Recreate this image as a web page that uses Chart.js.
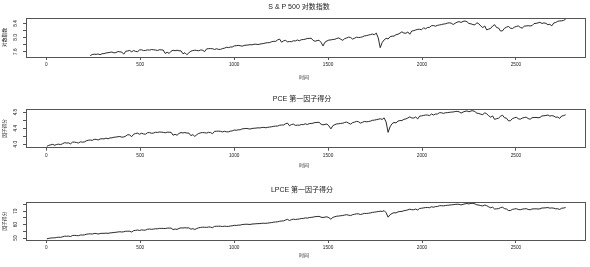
<!DOCTYPE html>
<html>
<head>
<meta charset="utf-8">
<script src="https://cdn.jsdelivr.net/npm/chart.js@4.4.1/dist/chart.umd.min.js"></script>
<style>
  html, body { margin: 0; padding: 0; background: #fff; overflow: hidden; }
  #wrap { position: relative; width: 590px; height: 267px; }
  canvas { position: absolute; left: 0; }
</style>
</head>
<body>
<div id="wrap">
  <canvas id="c1" width="590" height="89" style="top:0px"></canvas>
  <canvas id="c2" width="590" height="89" style="top:89px"></canvas>
  <canvas id="c3" width="590" height="89" style="top:178px"></canvas>
</div>
<script>
// ---------- data (time index: semi-monthly samples of the daily series) ----------
const T_START = 3, T_STEP = 10.5, T_COUNT = 264;
const timeIndex = Array.from({length: T_COUNT}, (_, k) => T_START + T_STEP * k);
const spStartK = 22; // S&P series begins later

const spLog = [
7.486,7.518,7.528,7.521,7.535,7.512,7.541,7.544,7.562,7.569,
7.581,7.588,7.566,7.573,7.602,7.596,7.587,7.529,7.610,7.621,
7.634,7.596,7.630,7.606,7.598,7.648,7.652,7.630,7.634,7.650,
7.643,7.659,7.653,7.647,7.632,7.653,7.651,7.645,7.550,7.581,
7.550,7.612,7.640,7.626,7.640,7.622,7.623,7.539,7.570,7.512,
7.566,7.611,7.630,7.640,7.633,7.624,7.648,7.638,7.601,7.678,
7.684,7.687,7.683,7.661,7.682,7.665,7.662,7.687,7.696,7.724,
7.714,7.730,7.732,7.762,7.768,7.777,7.768,7.754,7.776,7.783,
7.788,7.797,7.793,7.808,7.812,7.800,7.813,7.824,7.832,7.847,
7.854,7.856,7.882,7.892,7.891,7.932,7.955,7.867,7.906,7.919,
7.879,7.886,7.882,7.908,7.903,7.930,7.908,7.937,7.943,7.952,
7.973,7.974,7.981,7.919,7.894,7.912,7.923,7.863,7.763,7.867,
7.902,7.928,7.932,7.945,7.949,7.974,7.988,7.952,7.920,7.969,
7.987,8.011,8.000,7.955,7.981,8.009,7.999,8.005,8.019,8.046,
8.052,8.068,8.081,8.099,8.079,8.126,7.991,7.713,7.858,7.934,
7.977,7.959,8.021,8.039,8.039,8.079,8.093,8.124,8.161,8.126,
8.121,8.157,8.093,8.185,8.195,8.214,8.231,8.234,8.220,8.277,
8.246,8.284,8.287,8.336,8.338,8.321,8.344,8.355,8.366,8.380,
8.388,8.407,8.417,8.407,8.368,8.405,8.435,8.451,8.426,8.457,
8.469,8.447,8.396,8.389,8.366,8.357,8.418,8.388,8.326,8.281,
8.326,8.216,8.239,8.259,8.326,8.364,8.283,8.269,8.185,8.189,
8.262,8.292,8.314,8.267,8.253,8.294,8.313,8.330,8.286,8.266,
8.321,8.328,8.335,8.327,8.338,8.395,8.401,8.414,8.431,8.398,
8.414,8.401,8.364,8.373,8.331,8.412,8.427,8.459,8.470,8.472,
8.486,8.517];

const pceScore = [
3.947,3.971,3.984,3.995,3.972,3.994,3.999,3.990,4.012,4.037,
4.028,4.032,4.008,4.050,4.053,4.041,4.029,4.058,4.051,4.055,
4.083,4.098,4.104,4.094,4.122,4.119,4.105,4.129,4.136,4.131,
4.151,4.134,4.156,4.158,4.172,4.177,4.186,4.191,4.175,4.180,
4.202,4.237,4.230,4.187,4.248,4.266,4.276,4.247,4.273,4.255,
4.249,4.286,4.289,4.273,4.276,4.298,4.292,4.304,4.300,4.295,
4.284,4.300,4.298,4.294,4.223,4.246,4.223,4.269,4.290,4.280,
4.290,4.277,4.277,4.214,4.238,4.194,4.235,4.268,4.283,4.290,
4.285,4.278,4.296,4.289,4.261,4.319,4.323,4.325,4.322,4.306,
4.322,4.309,4.307,4.325,4.332,4.353,4.346,4.358,4.359,4.382,
4.386,4.393,4.386,4.376,4.392,4.397,4.401,4.408,4.405,4.416,
4.419,4.410,4.420,4.428,4.434,4.445,4.451,4.452,4.472,4.479,
4.478,4.509,4.526,4.460,4.490,4.499,4.469,4.475,4.472,4.491,
4.487,4.508,4.491,4.513,4.517,4.524,4.540,4.541,4.546,4.499,
4.481,4.494,4.502,4.457,4.382,4.460,4.487,4.506,4.509,4.519,
4.522,4.541,4.551,4.524,4.500,4.537,4.550,4.568,4.560,4.526,
4.546,4.567,4.559,4.564,4.574,4.595,4.599,4.611,4.621,4.634,
4.619,4.655,4.553,4.295,4.434,4.511,4.543,4.529,4.576,4.589,
4.589,4.619,4.630,4.653,4.681,4.655,4.651,4.678,4.630,4.699,
4.706,4.718,4.727,4.727,4.713,4.753,4.727,4.752,4.751,4.785,
4.784,4.768,4.782,4.787,4.793,4.800,4.803,4.814,4.819,4.808,
4.776,4.801,4.820,4.829,4.808,4.828,4.834,4.813,4.773,4.766,
4.747,4.738,4.782,4.757,4.709,4.673,4.705,4.620,4.635,4.648,
4.697,4.723,4.660,4.648,4.583,4.584,4.637,4.657,4.672,4.634,
4.622,4.651,4.663,4.674,4.639,4.622,4.661,4.664,4.667,4.659,
4.666,4.705,4.708,4.716,4.727,4.701,4.712,4.700,4.671,4.676,
4.643,4.703,4.712,4.735];

const lpceScore = [
49.46,49.83,50.04,50.21,50.18,50.52,50.66,50.58,50.99,51.45,
51.36,51.49,51.18,51.92,52.03,51.91,51.78,52.31,52.27,52.40,
52.85,53.08,53.19,53.02,53.46,53.42,53.03,53.42,53.58,53.52,
53.73,53.49,53.88,53.95,54.20,54.33,54.55,54.72,54.54,54.71,
55.13,55.14,55.12,54.51,55.56,55.77,56.02,55.64,56.13,55.92,
55.92,56.60,56.72,56.54,56.67,56.93,56.93,57.20,57.21,57.20,
57.10,57.44,57.46,57.43,56.34,56.76,56.44,57.22,57.61,57.49,
57.70,57.53,57.60,56.63,57.05,56.40,57.10,57.68,57.96,58.10,
58.05,57.96,58.27,58.18,57.75,58.70,58.80,58.85,58.84,58.59,
58.86,58.69,58.67,58.99,59.13,59.49,59.41,59.63,59.69,60.08,
60.20,60.33,60.27,60.13,60.43,60.55,60.65,60.78,60.78,60.99,
61.07,60.96,61.16,61.38,61.55,61.82,62.00,62.11,62.50,62.71,
62.79,63.47,63.94,63.06,63.72,64.07,63.78,64.04,64.18,64.58,
64.60,65.00,64.82,65.24,65.41,65.59,65.93,66.02,66.18,65.52,
65.30,65.59,65.81,65.17,64.06,65.38,65.88,66.28,66.40,66.64,
66.77,67.15,67.39,67.03,66.73,67.40,67.68,68.05,68.00,67.54,
67.93,68.34,68.30,68.45,68.70,69.09,69.24,69.52,69.72,69.99,
69.80,70.41,68.84,65.56,67.35,68.31,68.87,68.71,69.50,69.77,
69.82,70.35,70.57,70.99,71.48,71.11,71.10,71.58,70.87,72.02,
72.19,72.47,72.69,72.74,72.59,73.29,72.93,73.41,73.46,74.06,
74.11,73.92,74.21,74.36,74.51,74.69,74.81,75.05,75.18,75.08,
74.64,75.09,75.47,75.68,75.39,75.78,75.82,75.44,74.72,74.53,
74.14,73.92,74.55,74.08,73.22,72.57,73.01,71.59,71.77,71.91,
72.61,72.97,71.90,71.63,70.52,70.47,71.30,71.63,71.86,71.26,
71.06,71.52,71.71,71.87,71.31,71.03,71.66,71.71,71.76,71.62,
71.72,72.37,72.40,72.53,72.69,72.27,72.42,72.22,71.75,71.82,
71.28,72.21,72.36,72.71];

// ---------- axes / text ----------
const xTicks = [0, 500, 1000, 1500, 2000, 2500];
const spYTicks = [7.6, 7.8, 8.0, 8.2, 8.4];
const spYLabels = ['7.6', '8.0', '8.4'];
const pceYTicks = [4.0, 4.2, 4.4, 4.6, 4.8];
const pceYLabels = ['4.0', '4.4', '4.8'];
const lpceYTicks = [50, 55, 60, 65, 70, 75];
const lpceYLabels = ['50', '60', '70'];
const titles = ['S & P 500 对数指数', 'PCE 第一因子得分', 'LPCE 第一因子得分'];
const yTitles = ['对数指数', '因子得分', '因子得分'];
const xTitle = '时间';

const FONT = "'Liberation Sans', Arial, 'Noto Sans CJK SC', sans-serif";
const INK = '#1a1a1a';
const FRAME = '#555555';

function makeFramePlugin(cfg) {
  return {
    id: 'frame_' + cfg.id,
    afterDraw(chart) {
      const { ctx, chartArea: a, scales } = chart;
      ctx.save();
      ctx.strokeStyle = FRAME;
      ctx.lineWidth = 1;
      ctx.strokeRect(Math.round(a.left) + 0.5, Math.round(a.top) + 0.5,
                     Math.round(a.right - a.left) - 1, Math.round(a.bottom - a.top));
      ctx.fillStyle = INK;
      ctx.textAlign = 'center';
      ctx.textBaseline = 'middle';
      ctx.font = `${cfg.titleSize}px ${FONT}`;
      ctx.fillText(cfg.title, cfg.titleX, cfg.titleY);
      ctx.font = `${cfg.axisTitleSize}px ${FONT}`;
      ctx.fillText(xTitle, cfg.xTitleX, cfg.xTitleY);
      ctx.save();
      ctx.translate(cfg.yTitleX, (a.top + a.bottom) / 2);
      ctx.rotate(-Math.PI / 2);
      ctx.fillText(cfg.yTitle, 0, 0);
      ctx.restore();
      ctx.font = `${cfg.tickSize}px ${FONT}`;
      cfg.yLabels.forEach(lbl => {
        const y = scales.y.getPixelForValue(parseFloat(lbl));
        ctx.save();
        ctx.translate(cfg.yLabelX, y);
        ctx.rotate(-Math.PI / 2);
        ctx.fillText(lbl, 0, 0);
        ctx.restore();
      });
      ctx.restore();
    }
  };
}

function makeChart(canvasId, cfg) {
  const points = [];
  cfg.values.forEach((v, i) => points.push({ x: timeIndex[cfg.startK + i], y: v }));
  return new Chart(document.getElementById(canvasId), {
    type: 'line',
    data: { datasets: [{ data: points, borderColor: '#111', borderWidth: 0.9,
                         pointRadius: 0, tension: 0, fill: false }] },
    options: {
      responsive: false, animation: false, devicePixelRatio: 1,
      layout: { padding: { top: cfg.plotTop, right: 4, left: 0, bottom: 0 } },
      plugins: { legend: { display: false }, tooltip: { enabled: false }, title: { display: false } },
      scales: {
        x: {
          type: 'linear', min: -108, max: 2873,
          afterBuildTicks: s => { s.ticks = xTicks.map(v => ({ value: v })); },
          afterFit: s => { s.height = 89 - cfg.plotBottom; },
          grid: { drawOnChartArea: false, drawTicks: true, tickLength: 3, color: FRAME, lineWidth: 1 },
          border: { display: false },
          ticks: { autoSkip: false, maxRotation: 0, minRotation: 0, padding: 2,
                   color: INK, font: { size: cfg.tickSize, family: FONT },
                   callback: v => String(v) }
        },
        y: {
          type: 'linear', min: cfg.yMin, max: cfg.yMax,
          afterBuildTicks: s => { s.ticks = cfg.yTicks.map(v => ({ value: v })); },
          afterFit: s => { s.width = 26; },
          grid: { drawOnChartArea: false, drawTicks: true, tickLength: 3, color: FRAME, lineWidth: 1 },
          border: { display: false },
          ticks: { display: false }
        }
      }
    },
    plugins: [makeFramePlugin(cfg)]
  });
}

const common = { tickSize: 4.7, titleSize: 7, axisTitleSize: 4.8, yTitleX: 5, yLabelX: 16, xTitleX: 304 };

makeChart('c1', Object.assign({}, common, {
  id: 1, values: spLog, startK: spStartK, yMin: 7.448, yMax: 8.553,
  yTicks: spYTicks, yLabels: spYLabels, title: titles[0], yTitle: yTitles[0],
  plotTop: 18, plotBottom: 57, titleX: 299, titleY: 7.5, xTitleY: 77.5
}));
makeChart('c2', Object.assign({}, common, {
  id: 2, values: pceScore, startK: 0, yMin: 3.912, yMax: 4.870,
  yTicks: pceYTicks, yLabels: pceYLabels, title: titles[1], yTitle: yTitles[1],
  plotTop: 20.3, plotBottom: 58.7, titleX: 302, titleY: 10, xTitleY: 76.5
}));
makeChart('c3', Object.assign({}, common, {
  id: 3, values: lpceScore, startK: 0, yMin: 48.6, yMax: 76.6,
  yTicks: lpceYTicks, yLabels: lpceYLabels, title: titles[2], yTitle: yTitles[2],
  plotTop: 24.3, plotBottom: 62, titleX: 302, titleY: 12, xTitleY: 77.5
}));
</script>
</body>
</html>
